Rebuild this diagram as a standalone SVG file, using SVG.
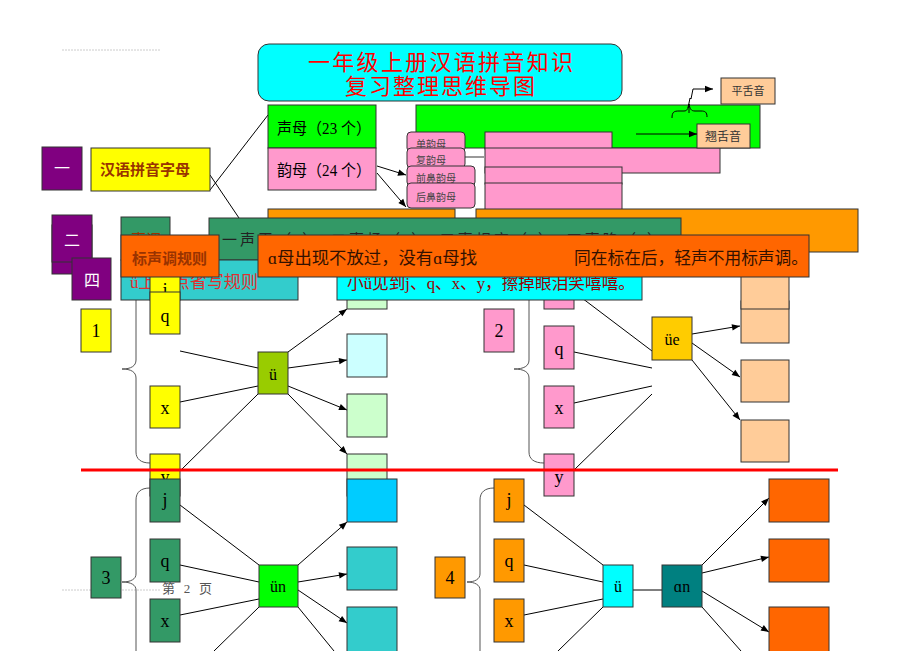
<svg xmlns="http://www.w3.org/2000/svg" width="920" height="651" viewBox="0 0 920 651">
<defs>
<marker id="ah" viewBox="0 0 10 10" refX="10" refY="5" markerWidth="9" markerHeight="8" markerUnits="userSpaceOnUse" orient="auto"><path d="M0,1 L10,5 L0,9 z" fill="#000"/></marker>
<style>
.b{stroke:#333;stroke-width:1}
.t{font-family:"Liberation Serif","DejaVu Serif","Noto Sans CJK SC",serif;fill:#000}
.l{font-size:18px;text-anchor:middle}
.n{font-size:16px;text-anchor:middle}
.c{stroke:#000;stroke-width:1;fill:none}
.a{stroke:#000;stroke-width:1;fill:none;marker-end:url(#ah)}
.br{stroke:#555;stroke-width:1;fill:none}
.s{font-size:10px;fill:#444}
</style>
</defs>
<rect width="920" height="651" fill="#fff"/>
<g id="header-footer">
<line x1="62" y1="50" x2="160" y2="50" stroke="#ccc" stroke-dasharray="2 1"/>
<line x1="62" y1="590" x2="160" y2="590" stroke="#ccc" stroke-dasharray="2 1"/>
<text x="162" y="593" class="t" style="font-size:13px;fill:#555" textLength="50" lengthAdjust="spacing">第 2 页</text>
</g>
<g id="connectors">
<line class="c" x1="210" y1="190" x2="268" y2="115"/>
<line class="c" x1="210" y1="175" x2="239" y2="218"/>
<line class="a" x1="377" y1="166" x2="406" y2="175"/>
<line class="a" x1="377" y1="173" x2="406" y2="207"/>
<path class="br" d="M150,272 C140,272 136,276 136,286 L136,360 C136,366 131,369 122,369 C131,369 136,372 136,378 L136,452 C136,459 141,463 150,463"/>
<line class="c" x1="180" y1="351" x2="258" y2="368"/>
<line class="c" x1="180" y1="402" x2="258" y2="386"/>
<line class="c" x1="180" y1="471" x2="258" y2="394"/>
<line class="a" x1="288" y1="352" x2="347" y2="309"/>
<line class="a" x1="288" y1="368" x2="347" y2="360"/>
<line class="a" x1="288" y1="386" x2="347" y2="410"/>
<line class="a" x1="288" y1="394" x2="347" y2="454"/>
<path class="br" d="M544,272 C534,272 529,276 529,286 L529,360 C529,366 524,369 514,369 C524,369 529,372 529,378 L529,452 C529,459 534,463 544,463"/>
<line class="c" x1="574" y1="292" x2="652" y2="351"/>
<line class="c" x1="574" y1="352" x2="652" y2="368"/>
<line class="c" x1="574" y1="403" x2="652" y2="386"/>
<line class="c" x1="574" y1="470" x2="652" y2="394"/>
<line class="a" x1="692" y1="334" x2="740" y2="326"/>
<line class="a" x1="692" y1="343" x2="740" y2="377"/>
<line class="a" x1="692" y1="360" x2="740" y2="420"/>
<path class="br" d="M150,488 C141,488 136,492 136,500 L136,574 C136,579 131,582 122,582 C131,582 136,585 136,590 L136,660"/>
<line class="c" x1="180" y1="505" x2="259" y2="565"/>
<line class="c" x1="180" y1="565" x2="259" y2="582"/>
<line class="c" x1="180" y1="615" x2="259" y2="599"/>
<line class="c" x1="259" y1="607" x2="214" y2="651"/>
<line class="a" x1="298" y1="565" x2="347" y2="522"/>
<line class="a" x1="298" y1="582" x2="347" y2="574"/>
<line class="a" x1="298" y1="590" x2="347" y2="623"/>
<line class="c" x1="298" y1="607" x2="334" y2="651"/>
<path class="br" d="M494,488 C485,488 480,492 480,500 L480,574 C480,579 475,582 467,582 C475,582 480,585 480,590 L480,660"/>
<line class="c" x1="524" y1="505" x2="603" y2="565"/>
<line class="c" x1="524" y1="565" x2="603" y2="582"/>
<line class="c" x1="524" y1="615" x2="603" y2="599"/>
<line class="c" x1="603" y1="607" x2="558" y2="651"/>
<line class="c" x1="632" y1="590" x2="662" y2="590"/>
<line class="a" x1="702" y1="565" x2="769" y2="498"/>
<line class="a" x1="702" y1="573" x2="769" y2="557"/>
<line class="a" x1="702" y1="591" x2="769" y2="632"/>
<line class="c" x1="702" y1="607" x2="741" y2="651"/>
</g>
<g id="title"><rect class="b" x="258" y="44" width="364" height="57" rx="11" fill="#00FFFF"/>
<text x="308" y="70" class="t" style="font-size:22px;fill:#FF0000" textLength="265" lengthAdjust="spacing">一年级上册汉语拼音知识</text>
<text x="345" y="94" class="t" style="font-size:22px;fill:#FF0000" textLength="190" lengthAdjust="spacing">复习整理思维导图</text></g>
<g id="shengmu"><rect class="b" x="268" y="105" width="108" height="43" fill="#00FF00"/><text x="277" y="134" class="t" style="font-size:16px" textLength="94" lengthAdjust="spacingAndGlyphs">声母（23 个）</text></g>
<g id="yunmu"><rect class="b" x="268" y="148" width="108" height="42" fill="#FF99CC"/><text x="277" y="176" class="t" style="font-size:16px" textLength="94" lengthAdjust="spacingAndGlyphs">韵母（24 个）</text></g>
<g id="green-bar"><rect class="b" x="416" y="105" width="344" height="43" fill="#00FF00"/></g>
<g id="pingshe"><rect class="b" x="721" y="78" width="54" height="26" fill="#FFCC99"/><text x="748" y="95" class="t" style="font-size:11px;fill:#333;text-anchor:middle">平舌音</text></g>
<g id="pink-rects">
<rect class="b" x="485" y="132" width="127" height="17" fill="#FF99CC"/>
<rect class="b" x="485" y="148" width="235" height="25" fill="#FF99CC"/>
<rect class="b" x="485" y="167" width="137" height="17" fill="#FF99CC"/>
<rect class="b" x="485" y="183" width="137" height="30" fill="#FF99CC"/>
<line x1="465" y1="157" x2="485" y2="157" stroke="#999" stroke-width="2"/>
</g>
<g id="qiaoshe"><rect class="b" x="697" y="124" width="53" height="24" fill="#FFCC99"/><text x="723" y="141" class="t" style="font-size:12px;fill:#333;text-anchor:middle">翘舌音</text></g>
<g id="dan"><rect class="b" x="407" y="132" width="58" height="20" rx="4" fill="#FF99CC"/><text x="416" y="148" class="t s">单韵母</text></g>
<g id="fu"><rect class="b" x="407" y="148" width="58" height="20" rx="4" fill="#FF99CC"/><text x="416" y="164" class="t s">复韵母</text></g>
<g id="qianbi"><rect class="b" x="407" y="166" width="68" height="20" rx="4" fill="#FF99CC"/><text x="416" y="182" class="t s">前鼻韵母</text></g>
<g id="houbi"><rect class="b" x="407" y="183" width="68" height="25" rx="4" fill="#FF99CC"/><text x="416" y="201" class="t s">后鼻韵母</text></g>
<g id="num1"><rect class="b" x="42" y="147" width="40" height="43" fill="#800080"/><text x="62" y="174" class="t" style="font-size:16px;fill:#fff;text-anchor:middle">一</text></g>
<g id="hanyu"><rect class="b" x="91" y="148" width="119" height="43" fill="#FFFF00"/><text x="100" y="175" class="t" style="font-size:15px;font-weight:bold;fill:#993300;font-family:'Noto Sans CJK SC',sans-serif">汉语拼音字母</text></g>
<g id="orange-bars"><rect class="b" x="268" y="209" width="187" height="43" fill="#FF9900"/><rect class="b" x="476" y="209" width="382" height="43" fill="#FF9900"/></g>
<g id="num2"><rect class="b" x="52" y="225" width="40" height="49" fill="#800080"/><rect class="b" x="52" y="215" width="40" height="47" fill="#800080"/><text x="72" y="246" class="t" style="font-size:16px;fill:#fff;text-anchor:middle">二</text></g>
<g id="num4"><rect class="b" x="72" y="258" width="39" height="42" fill="#800080"/><text x="92" y="286" class="t" style="font-size:16px;fill:#fff;text-anchor:middle">四</text></g>
<g id="shengdiao"><rect class="b" x="121" y="217" width="49" height="43" fill="#339966"/><text x="131" y="245" class="t" style="font-size:15px;fill:#993300">声调</text></g>
<g id="tone-bar"><rect class="b" x="209" y="218" width="472" height="42" fill="#339966"/><text x="222" y="245" class="t" style="font-size:15px;fill:#222" textLength="440" lengthAdjust="spacing">一声平（ˉ）、二声扬（ˊ）、三声拐弯（ˇ）、四声降（ˋ）</text></g>
<g id="u-rule"><rect class="b" x="121" y="260" width="177" height="40" fill="#33CCCC"/><text x="130" y="288" class="t" style="font-size:17px;fill:#E03030" textLength="128" lengthAdjust="spacingAndGlyphs">ü上两点省写规则</text></g>
<g id="sec1">
<rect class="b" x="81" y="309" width="30" height="43" fill="#FFFF00"/><text x="96" y="337" class="t l">1</text>
<rect class="b" x="150" y="258" width="30" height="42" fill="#FFFF00"/><text x="165" y="296" class="t l">j</text>
<rect class="b" x="150" y="292" width="30" height="42" fill="#FFFF00"/><text x="165" y="322" class="t l">q</text>
<rect class="b" x="150" y="386" width="30" height="42" fill="#FFFF00"/><text x="165" y="414" class="t l">x</text>
<rect class="b" x="150" y="454" width="30" height="42" fill="#FFFF00"/><text x="165" y="483" class="t l">y</text>
<rect class="b" x="258" y="352" width="30" height="42" fill="#99CC00"/><text x="273" y="380" class="t n">ü</text>
<rect class="b" x="347" y="267" width="40" height="42" fill="#CCFFCC"/>
<rect class="b" x="347" y="334" width="40" height="43" fill="#CCFFFF"/>
<rect class="b" x="347" y="394" width="40" height="43" fill="#CCFFCC"/>
<rect class="b" x="347" y="454" width="40" height="42" fill="#CCFFCC"/>
</g>
<g id="sec2">
<rect class="b" x="484" y="309" width="30" height="43" fill="#FF99CC"/><text x="499" y="337" class="t l">2</text>
<rect class="b" x="544" y="267" width="30" height="42" fill="#FF99CC"/>
<rect class="b" x="544" y="326" width="30" height="43" fill="#FF99CC"/><text x="559" y="355" class="t l">q</text>
<rect class="b" x="544" y="386" width="30" height="42" fill="#FF99CC"/><text x="559" y="414" class="t l">x</text>
<rect class="b" x="544" y="454" width="30" height="42" fill="#FF99CC"/><text x="559" y="483" class="t l">y</text>
<rect class="b" x="652" y="317" width="40" height="43" fill="#FFCC00"/><text x="672" y="345" class="t n">üe</text>
<rect class="b" x="741" y="301" width="48" height="42" fill="#FFCC99"/>
<rect class="b" x="741" y="267" width="48" height="42" fill="#FFCC99"/>
<rect class="b" x="741" y="360" width="48" height="42" fill="#FFCC99"/>
<rect class="b" x="741" y="420" width="48" height="42" fill="#FFCC99"/>
</g>
<g id="u-rhyme"><rect class="b" x="337" y="260" width="305" height="40" fill="#00FFFF"/><text x="347" y="289" class="t" style="font-size:17px;fill:#990000" textLength="288" lengthAdjust="spacingAndGlyphs">小ü见到j、q、x、y，擦掉眼泪笑嘻嘻。</text></g>
<g id="tone-rule-label"><rect class="b" x="121" y="235" width="98" height="42" fill="#FF6600"/><text x="132" y="264" class="t" style="font-size:15px;font-weight:bold;fill:#993300;font-family:'Noto Sans CJK SC',sans-serif">标声调规则</text></g>
<g id="tone-rule"><rect class="b" x="258" y="235" width="551" height="42" fill="#FF6600"/>
<text x="268" y="264" class="t" style="font-size:17px;fill:#331100" textLength="209" lengthAdjust="spacingAndGlyphs">ɑ母出现不放过，没有ɑ母找</text>
<text x="574" y="264" class="t" style="font-size:17px;fill:#331100" textLength="234" lengthAdjust="spacingAndGlyphs">同在标在后，轻声不用标声调。</text></g>
<g id="sec3">
<rect class="b" x="91" y="557" width="30" height="41" fill="#339966"/><text x="106" y="584" class="t l">3</text>
<rect class="b" x="150" y="479" width="30" height="43" fill="#339966"/><text x="165" y="506" class="t l">j</text>
<rect class="b" x="150" y="539" width="30" height="43" fill="#339966"/><text x="165" y="567" class="t l">q</text>
<rect class="b" x="150" y="599" width="30" height="43" fill="#339966"/><text x="165" y="627" class="t l">x</text>
<rect class="b" x="259" y="565" width="39" height="42" fill="#00FF00"/><text x="278" y="592" class="t n">ün</text>
<rect class="b" x="347" y="479" width="50" height="43" fill="#00CCFF"/>
<rect class="b" x="347" y="547" width="50" height="43" fill="#33CCCC"/>
<rect class="b" x="347" y="607" width="50" height="46" fill="#33CCCC"/>
</g>
<g id="sec4">
<rect class="b" x="435" y="557" width="30" height="41" fill="#FF9900"/><text x="450" y="584" class="t l">4</text>
<rect class="b" x="494" y="479" width="30" height="43" fill="#FF9900"/><text x="509" y="506" class="t l">j</text>
<rect class="b" x="494" y="539" width="30" height="43" fill="#FF9900"/><text x="509" y="567" class="t l">q</text>
<rect class="b" x="494" y="599" width="30" height="43" fill="#FF9900"/><text x="509" y="627" class="t l">x</text>
<rect class="b" x="603" y="565" width="30" height="42" fill="#00FFFF"/><text x="618" y="592" class="t n">ü</text>
<rect class="b" x="662" y="565" width="40" height="42" fill="#008080"/><text x="682" y="592" class="t n">ɑn</text>
<rect class="b" x="769" y="479" width="60" height="43" fill="#FF6600"/>
<rect class="b" x="769" y="539" width="60" height="43" fill="#FF6600"/>
<rect class="b" x="769" y="607" width="60" height="46" fill="#FF6600"/>
</g>
<g id="connectors-front">
<line class="a" x1="636" y1="134" x2="697" y2="134"/>
<path class="c" d="M672,118 C672,112 674,111 679,111 L684,111 C687,111 688,109 689,104 C690,109 691,111 695,111 L701,111 C705,111 707,112 707,117"/>
<line class="c" x1="689" y1="104" x2="689" y2="113"/>
<path class="a" d="M688,108 L690,98 L691,99 L693,89 L713,89"/>
</g>
<line id="separator" x1="81" y1="470" x2="838" y2="470" stroke="#FF0000" stroke-width="3"/>
</svg>
